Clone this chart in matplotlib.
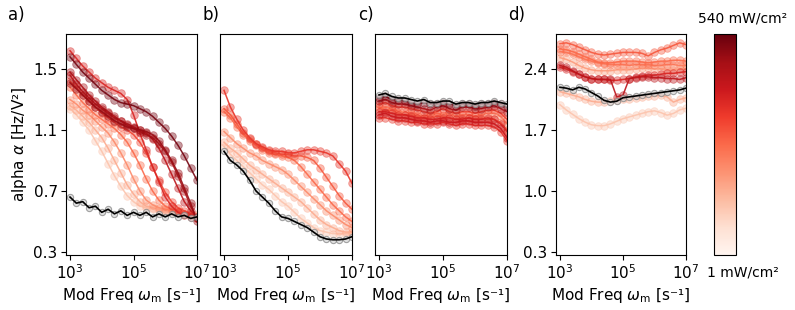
import numpy as np
import matplotlib.pyplot as plt
from matplotlib import cm, colors as mcolors

# modulation frequency grid (log10 of omega_m)
log_freq = [3.0, 3.2, 3.4, 3.6, 3.8, 4.0, 4.2, 4.4, 4.6, 4.8, 5.0,
            5.2, 5.4, 5.6, 5.8, 6.0, 6.2, 6.4, 6.6, 6.8, 7.0]

# panel a
a_dark = [0.66, 0.62, 0.63, 0.59, 0.60, 0.56, 0.58, 0.55, 0.57, 0.54, 0.56,
          0.54, 0.56, 0.53, 0.55, 0.53, 0.55, 0.53, 0.54, 0.52, 0.53]
a_levels = [0.22, 0.3, 0.4, 0.5, 0.6, 0.7, 0.8, 0.85, 0.9, 0.97]
a_curves = [
    [1.24, 1.20, 1.15, 1.10, 1.03, 0.96, 0.88, 0.80, 0.73, 0.67, 0.63, 0.60, 0.59, 0.58, 0.57, 0.57, 0.56, 0.56, 0.55, 0.55, 0.54],
    [1.26, 1.23, 1.19, 1.15, 1.10, 1.05, 0.98, 0.90, 0.82, 0.74, 0.68, 0.63, 0.60, 0.59, 0.58, 0.57, 0.57, 0.56, 0.55, 0.55, 0.54],
    [1.30, 1.27, 1.23, 1.20, 1.16, 1.12, 1.08, 1.02, 0.95, 0.87, 0.78, 0.70, 0.64, 0.61, 0.59, 0.58, 0.57, 0.56, 0.55, 0.54, 0.53],
    [1.38, 1.33, 1.28, 1.24, 1.20, 1.17, 1.14, 1.11, 1.07, 1.02, 0.95, 0.87, 0.78, 0.70, 0.64, 0.60, 0.58, 0.57, 0.55, 0.54, 0.52],
    [1.42, 1.38, 1.33, 1.29, 1.25, 1.21, 1.18, 1.15, 1.12, 1.10, 1.07, 1.02, 0.95, 0.86, 0.77, 0.69, 0.63, 0.59, 0.57, 0.55, 0.53],
    [1.62, 1.57, 1.52, 1.48, 1.44, 1.41, 1.38, 1.36, 1.34, 1.30, 1.20, 1.08, 0.97, 0.86, 0.76, 0.66, 0.60, 0.56, 0.54, 0.53, 0.52],
    [1.46, 1.40, 1.35, 1.31, 1.27, 1.24, 1.21, 1.18, 1.16, 1.14, 1.12, 1.10, 1.08, 1.04, 0.98, 0.90, 0.81, 0.72, 0.63, 0.57, 0.53],
    [1.48, 1.43, 1.38, 1.33, 1.29, 1.25, 1.22, 1.19, 1.16, 1.13, 1.11, 1.09, 1.07, 1.05, 1.01, 0.96, 0.89, 0.80, 0.70, 0.60, 0.52],
    [1.41, 1.37, 1.33, 1.29, 1.25, 1.22, 1.19, 1.16, 1.14, 1.12, 1.11, 1.10, 1.09, 1.07, 1.03, 0.97, 0.90, 0.82, 0.72, 0.62, 0.50],
    [1.58, 1.53, 1.48, 1.44, 1.40, 1.36, 1.33, 1.30, 1.28, 1.27, 1.26, 1.24, 1.22, 1.19, 1.15, 1.11, 1.06, 1.00, 0.93, 0.85, 0.77],
]

# panel b
b_dark = [0.96, 0.90, 0.87, 0.83, 0.77, 0.70, 0.66, 0.62, 0.57, 0.53, 0.52,
          0.50, 0.48, 0.46, 0.43, 0.40, 0.385, 0.38, 0.38, 0.385, 0.40]
b_levels = [0.22, 0.3, 0.4, 0.5, 0.55, 0.65]
b_curves = [
    [0.99, 0.94, 0.90, 0.86, 0.82, 0.78, 0.74, 0.71, 0.67, 0.63, 0.60, 0.56, 0.52, 0.49, 0.46, 0.44, 0.43, 0.42, 0.42, 0.42, 0.42],
    [1.02, 0.98, 0.95, 0.91, 0.87, 0.84, 0.81, 0.78, 0.75, 0.72, 0.69, 0.66, 0.63, 0.59, 0.55, 0.51, 0.48, 0.46, 0.44, 0.43, 0.43],
    [1.09, 1.05, 1.01, 0.98, 0.95, 0.93, 0.90, 0.88, 0.86, 0.84, 0.81, 0.77, 0.73, 0.69, 0.65, 0.61, 0.57, 0.54, 0.51, 0.48, 0.46],
    [1.22, 1.18, 1.12, 1.07, 1.03, 1.00, 0.97, 0.95, 0.94, 0.93, 0.92, 0.90, 0.86, 0.81, 0.76, 0.71, 0.66, 0.61, 0.57, 0.53, 0.50],
    [1.24, 1.20, 1.14, 1.08, 1.04, 1.01, 0.98, 0.96, 0.95, 0.94, 0.94, 0.93, 0.93, 0.92, 0.90, 0.85, 0.79, 0.73, 0.67, 0.62, 0.58],
    [1.36, 1.25, 1.17, 1.10, 1.05, 1.01, 0.99, 0.97, 0.96, 0.96, 0.95, 0.95, 0.96, 0.97, 0.97, 0.96, 0.95, 0.93, 0.88, 0.83, 0.75],
]

# panel c
c_dark = [1.33, 1.34, 1.32, 1.31, 1.31, 1.30, 1.29, 1.30, 1.28, 1.28, 1.29,
          1.29, 1.27, 1.28, 1.28, 1.27, 1.28, 1.28, 1.29, 1.28, 1.27]
c_levels = [0.4, 0.5, 0.6, 0.65, 0.7, 0.75, 0.85, 0.97]
c_curves = [
    [1.24, 1.25, 1.24, 1.22, 1.22, 1.21, 1.20, 1.19, 1.20, 1.21, 1.20, 1.21, 1.19, 1.20, 1.20, 1.19, 1.20, 1.21, 1.21, 1.19, 1.14],
    [1.25, 1.23, 1.23, 1.21, 1.20, 1.20, 1.19, 1.18, 1.18, 1.19, 1.19, 1.18, 1.17, 1.18, 1.18, 1.17, 1.18, 1.17, 1.17, 1.15, 1.10],
    [1.27, 1.28, 1.26, 1.25, 1.25, 1.24, 1.23, 1.22, 1.21, 1.22, 1.24, 1.22, 1.21, 1.22, 1.22, 1.21, 1.22, 1.23, 1.23, 1.21, 1.17],
    [1.18, 1.18, 1.17, 1.16, 1.16, 1.15, 1.15, 1.14, 1.14, 1.14, 1.15, 1.14, 1.13, 1.14, 1.14, 1.13, 1.13, 1.13, 1.12, 1.09, 1.03],
    [1.22, 1.22, 1.21, 1.20, 1.20, 1.19, 1.18, 1.18, 1.17, 1.17, 1.18, 1.18, 1.17, 1.17, 1.18, 1.17, 1.17, 1.18, 1.17, 1.14, 1.09],
    [1.20, 1.21, 1.19, 1.18, 1.18, 1.17, 1.16, 1.16, 1.15, 1.16, 1.16, 1.15, 1.15, 1.16, 1.16, 1.15, 1.15, 1.15, 1.14, 1.11, 1.05],
    [1.29, 1.30, 1.28, 1.27, 1.27, 1.26, 1.25, 1.24, 1.23, 1.25, 1.26, 1.24, 1.23, 1.25, 1.25, 1.24, 1.24, 1.25, 1.26, 1.24, 1.22],
    [1.31, 1.32, 1.30, 1.30, 1.29, 1.28, 1.27, 1.28, 1.27, 1.27, 1.28, 1.27, 1.26, 1.27, 1.27, 1.26, 1.27, 1.27, 1.28, 1.27, 1.25],
]

# panel d
d_dark = [2.19, 2.18, 2.16, 2.19, 2.17, 2.13, 2.09, 2.04, 2.02, 2.03, 2.07,
          2.08, 2.09, 2.10, 2.11, 2.12, 2.13, 2.14, 2.15, 2.16, 2.18]
d_levels = [0.22, 0.3, 0.35, 0.45, 0.5, 0.55, 0.7, 0.8]
d_curves = [
    [1.99, 1.93, 1.88, 1.83, 1.79, 1.76, 1.75, 1.75, 1.77, 1.80, 1.83, 1.85, 1.87, 1.89, 1.91, 1.92, 1.90, 1.87, 1.89, 1.93, 1.95],
    [2.14, 2.12, 2.10, 2.08, 2.05, 2.03, 2.02, 2.02, 2.03, 2.04, 2.05, 2.06, 2.07, 2.08, 2.09, 2.09, 2.10, 2.08, 2.02, 2.05, 2.07],
    [2.53, 2.51, 2.48, 2.44, 2.41, 2.39, 2.38, 2.38, 2.38, 2.39, 2.39, 2.39, 2.40, 2.41, 2.41, 2.40, 2.40, 2.39, 2.39, 2.40, 2.40],
    [2.60, 2.59, 2.57, 2.54, 2.51, 2.49, 2.47, 2.46, 2.45, 2.45, 2.45, 2.44, 2.45, 2.45, 2.45, 2.44, 2.44, 2.45, 2.45, 2.44, 2.44],
    [2.63, 2.62, 2.60, 2.57, 2.54, 2.51, 2.48, 2.47, 2.47, 2.48, 2.49, 2.49, 2.49, 2.48, 2.47, 2.48, 2.49, 2.49, 2.50, 2.50, 2.49],
    [2.69, 2.70, 2.68, 2.65, 2.62, 2.59, 2.57, 2.56, 2.57, 2.58, 2.59, 2.59, 2.59, 2.58, 2.55, 2.59, 2.62, 2.64, 2.67, 2.70, 2.68],
    [2.42, 2.40, 2.37, 2.34, 2.31, 2.29, 2.28, 2.28, 2.27, 2.27, 2.28, 2.29, 2.31, 2.32, 2.33, 2.33, 2.34, 2.35, 2.35, 2.36, 2.37],
    [2.44, 2.42, 2.38, 2.34, 2.31, 2.29, 2.28, 2.28, 2.28, 2.08, 2.10, 2.29, 2.30, 2.31, 2.31, 2.30, 2.30, 2.29, 2.29, 2.28, 2.30],
]

panel_labels = ["a)", "b)", "c)", "d)"]
xlabel = "Mod Freq $\\omega_\\mathrm{m}$ [s⁻¹]"
ylabel = "alpha $\\alpha$ [Hz/V²]"

freq = 10.0 ** np.array(log_freq)
cmap = plt.get_cmap("Reds")

fig = plt.figure(figsize=(7.95, 3.1), dpi=100)
W, H = 795, 310


def px_axes(x0, x1, y0, y1):
    return fig.add_axes([x0 / W, 1 - y1 / H, (x1 - x0) / W, (y1 - y0) / H])


ax_a = px_axes(66, 197, 33.5, 255)
ax_b = px_axes(220, 352, 33.5, 255)
ax_c = px_axes(375, 507, 33.5, 255)
ax_d = px_axes(556, 686, 33.5, 255)
cax = px_axes(714, 736, 34, 255)

panels = [(ax_a, a_dark, a_levels, a_curves),
          (ax_b, b_dark, b_levels, b_curves),
          (ax_c, c_dark, c_levels, c_curves),
          (ax_d, d_dark, d_levels, d_curves)]

for ax, dark, levels, curves in panels:
    for lev, vals in zip(levels, curves):
        col = cmap(lev)
        ax.plot(freq, vals, "o", color=col, ms=5.5, alpha=0.4, mew=0.6)
        ax.plot(freq, vals, "-", color=col, lw=1.1, alpha=0.9)
    ax.plot(freq, dark, "o", mfc="lightgray", mec="gray", ms=4.5, alpha=0.7, mew=0.8)
    ax.plot(freq, dark, "-", color="black", lw=1.2)
    ax.set_xscale("log")
    ax.set_xlim(10 ** 2.874, 1e7)
    ax.set_xticks([1e3, 1e5, 1e7])
    ax.xaxis.set_minor_locator(plt.NullLocator())
    ax.set_xlabel(xlabel, fontsize=11, labelpad=3)
    ax.tick_params(labelsize=11, length=3.5, pad=2.5)

for ax in (ax_a, ax_b, ax_c):
    ax.set_ylim(0.28, 1.733)
ax_a.set_yticks([0.3, 0.7, 1.1, 1.5])
ax_a.set_ylabel(ylabel, fontsize=11, labelpad=3)
for ax in (ax_b, ax_c):
    ax.set_yticks([])
ax_d.set_ylim(0.266, 2.807)
ax_d.set_yticks([0.3, 1.0, 1.7, 2.4])

for lbl, xp in zip(panel_labels, [8, 202, 358, 508]):
    fig.text(xp / W, 1 - 15 / H, lbl, ha="left", va="center", fontsize=12)

sm = cm.ScalarMappable(cmap=cmap, norm=mcolors.Normalize(0, 1))
cb = fig.colorbar(sm, cax=cax)
cb.set_ticks([])
fig.text(743 / W, 1 - 18 / H, "540 mW/cm²", ha="center", va="center", fontsize=10)
fig.text(743 / W, 1 - 272 / H, "1 mW/cm²", ha="center", va="center", fontsize=10)

fig.savefig("out.png", dpi=100)
